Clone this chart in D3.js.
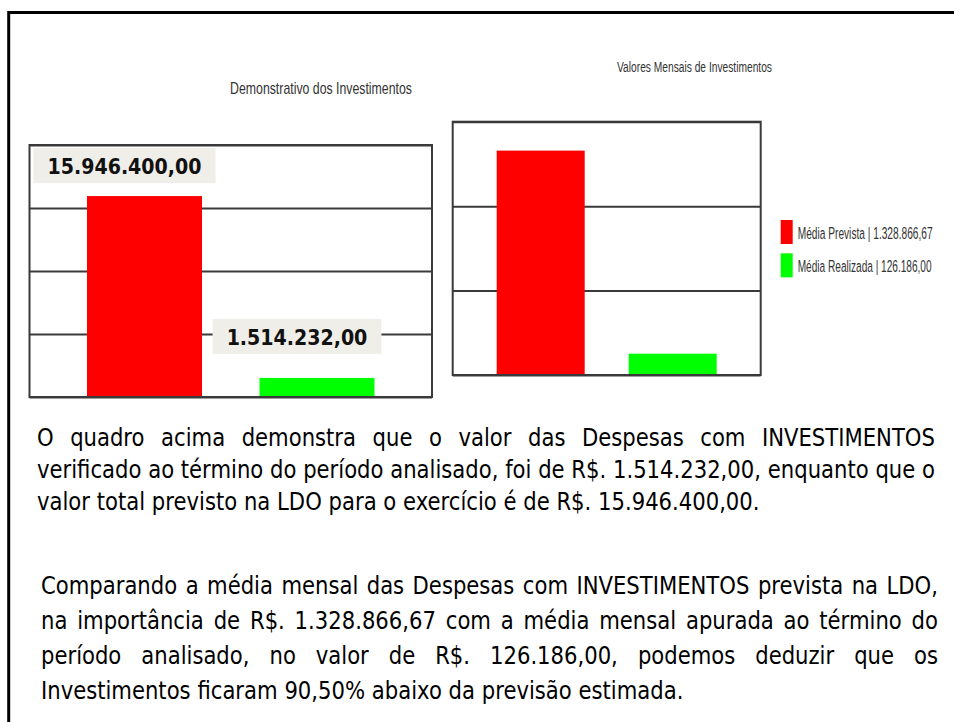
<!DOCTYPE html>
<html>
<head>
<meta charset="utf-8">
<title>Demonstrativo dos Investimentos</title>
<script src="https://cdn.jsdelivr.net/npm/d3@7"></script>
<style>
  body { margin: 0; background: #fff; }
  svg { display: block; }
</style>
</head>
<body>
<div id="chart"></div>
<script>
// ---- data ----
const categories = ["Prevista", "Realizada"];
const totalValues = [15946400.00, 1514232.00];
const totalLabels = ["15.946.400,00", "1.514.232,00"];
const monthlyValues = [1328866.67, 126186.00];
const legendLabels = ["Média  Prevista | 1.328.866,67", "Média  Realizada | 126.186,00"];
const barColors = ["#ff0000", "#00ff00"];
const totalTicks = [0, 5000000, 10000000, 15000000, 20000000];
const monthlyTicks = [0, 500000, 1000000, 1500000];
const titles = ["Demonstrativo dos Investimentos", "Valores Mensais de Investimentos"];
const paragraphs = [
  ["O quadro acima demonstra que o valor das Despesas com INVESTIMENTOS",
   "verificado ao término do período analisado, foi de R$. 1.514.232,00, enquanto que o",
   "valor total previsto na LDO para o exercício é de R$. 15.946.400,00."],
  ["Comparando a média mensal das Despesas com INVESTIMENTOS prevista na LDO,",
   "na importância de R$. 1.328.866,67 com a média mensal apurada ao término do",
   "período analisado, no valor de R$. 126.186,00, podemos deduzir que os",
   "Investimentos ficaram 90,50% abaixo da previsão estimada."]
];

// ---- layout ----
const width = 954, height = 722;
const bodyFont = "Tahoma, 'DejaVu Sans', sans-serif";
const chartFont = "'Liberation Sans Narrow', 'Arial Narrow', 'Liberation Sans', Arial, sans-serif";
const lineColor = "#3a3a3a";

const svg = d3.select("#chart").append("svg")
    .attr("width", width)
    .attr("height", height);

svg.append("rect").attr("width", width).attr("height", height).attr("fill", "#fff");

// outer frame (continues past the right and bottom edges)
svg.append("path")
    .attr("d", "M8.7,760V12.5H980")
    .attr("fill", "none")
    .attr("stroke", "#000")
    .attr("stroke-width", 3);

// hidden text used for measuring
const meter = svg.append("text").style("visibility", "hidden");
function measure(str, size, weight, family) {
    meter.attr("font-family", family).attr("font-size", size)
        .attr("font-weight", weight || "normal").text(str);
    return meter.node().getComputedTextLength();
}

// condensed chart text: squeezed horizontally to the width seen in the picture
function squeezedText(x, y, str, size, w, anchor) {
    const k = w / measure(str, size, "normal", chartFont);
    return svg.append("text")
        .attr("transform", "translate(" + x + "," + y + ") scale(" + k + ",1)")
        .attr("text-anchor", anchor)
        .attr("font-family", chartFont).attr("font-size", size).attr("fill", "#333")
        .text(str);
}

function barChart(o) {
    const x = d3.scaleBand().domain(categories).range([o.left, o.right]).padding(1 / 3);
    const y = d3.scaleLinear().domain([0, d3.max(o.ticks)]).range([o.bottom, o.top]);

    const grid = svg.append("g")
        .attr("transform", "translate(" + o.left + ",0)")
        .call(d3.axisLeft(y).tickValues(o.ticks).tickSize(-(o.right - o.left)).tickFormat(""));
    grid.select(".domain").remove();
    grid.selectAll("line").attr("stroke", lineColor).attr("stroke-width", 2);

    svg.append("g").selectAll("rect")
        .data(o.values)
        .enter().append("rect")
        .attr("x", (d, i) => x(categories[i]))
        .attr("y", d => y(d))
        .attr("width", x.bandwidth())
        .attr("height", d => o.bottom - y(d))
        .attr("fill", (d, i) => barColors[i]);

    svg.append("rect")
        .attr("x", o.left).attr("y", o.top)
        .attr("width", o.right - o.left).attr("height", o.bottom - o.top)
        .attr("fill", "none").attr("stroke", lineColor).attr("stroke-width", 2);

    return {x: x, y: y};
}

// ---- left chart: totals ----
squeezedText(321, 94, titles[0], 16, 182, "middle");

const left = barChart({left: 29.5, right: 432, top: 145, bottom: 397, values: totalValues, ticks: totalTicks});

const labelSize = 22, labelScale = 0.865;
const labelGap = [13, 24];
totalValues.forEach(function(v, i) {
    const cx = left.x(categories[i]) + left.x.bandwidth() / 2 - 20;
    const by = left.y(v) - labelGap[i];
    const tw = measure(totalLabels[i], labelSize, "bold", bodyFont) * labelScale;
    const g = svg.append("g").attr("transform", "translate(" + cx + "," + by + ")");
    g.append("rect")
        .attr("x", -(tw + 28) / 2).attr("y", -35)
        .attr("width", tw + 28).attr("height", 35)
        .attr("fill", "#efeee8");
    g.append("text")
        .attr("transform", "translate(0,-9) scale(" + labelScale + ",1)")
        .attr("text-anchor", "middle")
        .attr("font-family", bodyFont).attr("font-size", labelSize).attr("font-weight", "bold")
        .attr("fill", "#111")
        .text(totalLabels[i]);
});

// ---- right chart: monthly averages ----
squeezedText(694.5, 72, titles[1], 15, 155, "middle");

barChart({left: 452.7, right: 760.7, top: 121.7, bottom: 375, values: monthlyValues, ticks: monthlyTicks});

legendLabels.forEach(function(t, i) {
    svg.append("rect")
        .attr("x", 780.7).attr("y", 220 + i * 33.3)
        .attr("width", 12).attr("height", 24)
        .attr("fill", barColors[i]);
    squeezedText(797.7, 239 + i * 32.5, t, 17, i === 0 ? 135 : 134, "start");
});

// ---- justified paragraphs ----
const paraSize = 24;
const paraBoxes = [
    {left: 37, right: 935, first: 446, step: 32},
    {left: 41, right: 938, first: 594, step: 35}
];

const lineInfo = paragraphs.map(function(lines, p) {
    return lines.map(function(line, i) {
        const words = line.split(" ");
        const widths = words.map(w => measure(w, paraSize, "normal", bodyFont));
        const natural = measure(line, paraSize, "normal", bodyFont);
        const sum = d3.sum(widths);
        return {
            words: words, widths: widths, natural: natural, sum: sum,
            space: (natural - sum) / (words.length - 1),
            last: i === lines.length - 1,
            box: paraBoxes[p], index: i
        };
    });
});

const allLines = lineInfo.flat();
const sx = d3.min(allLines.filter(d => !d.last), d => (d.box.right - d.box.left) / d.natural);

allLines.forEach(function(d) {
    const target = (d.box.right - d.box.left) / sx;
    const gap = d.last ? d.space : (target - d.sum) / (d.words.length - 1);
    let pos = 0;
    const xs = d.widths.map(function(w) { const p = pos; pos += w + gap; return p; });
    const t = svg.append("text")
        .attr("transform", "translate(" + d.box.left + "," + (d.box.first + d.index * d.box.step) + ") scale(" + sx + ",1)")
        .attr("font-family", bodyFont).attr("font-size", paraSize).attr("fill", "#000");
    t.selectAll("tspan")
        .data(d.words)
        .enter().append("tspan")
        .attr("x", (w, k) => xs[k])
        .text(w => w);
});

meter.remove();
</script>
</body>
</html>
